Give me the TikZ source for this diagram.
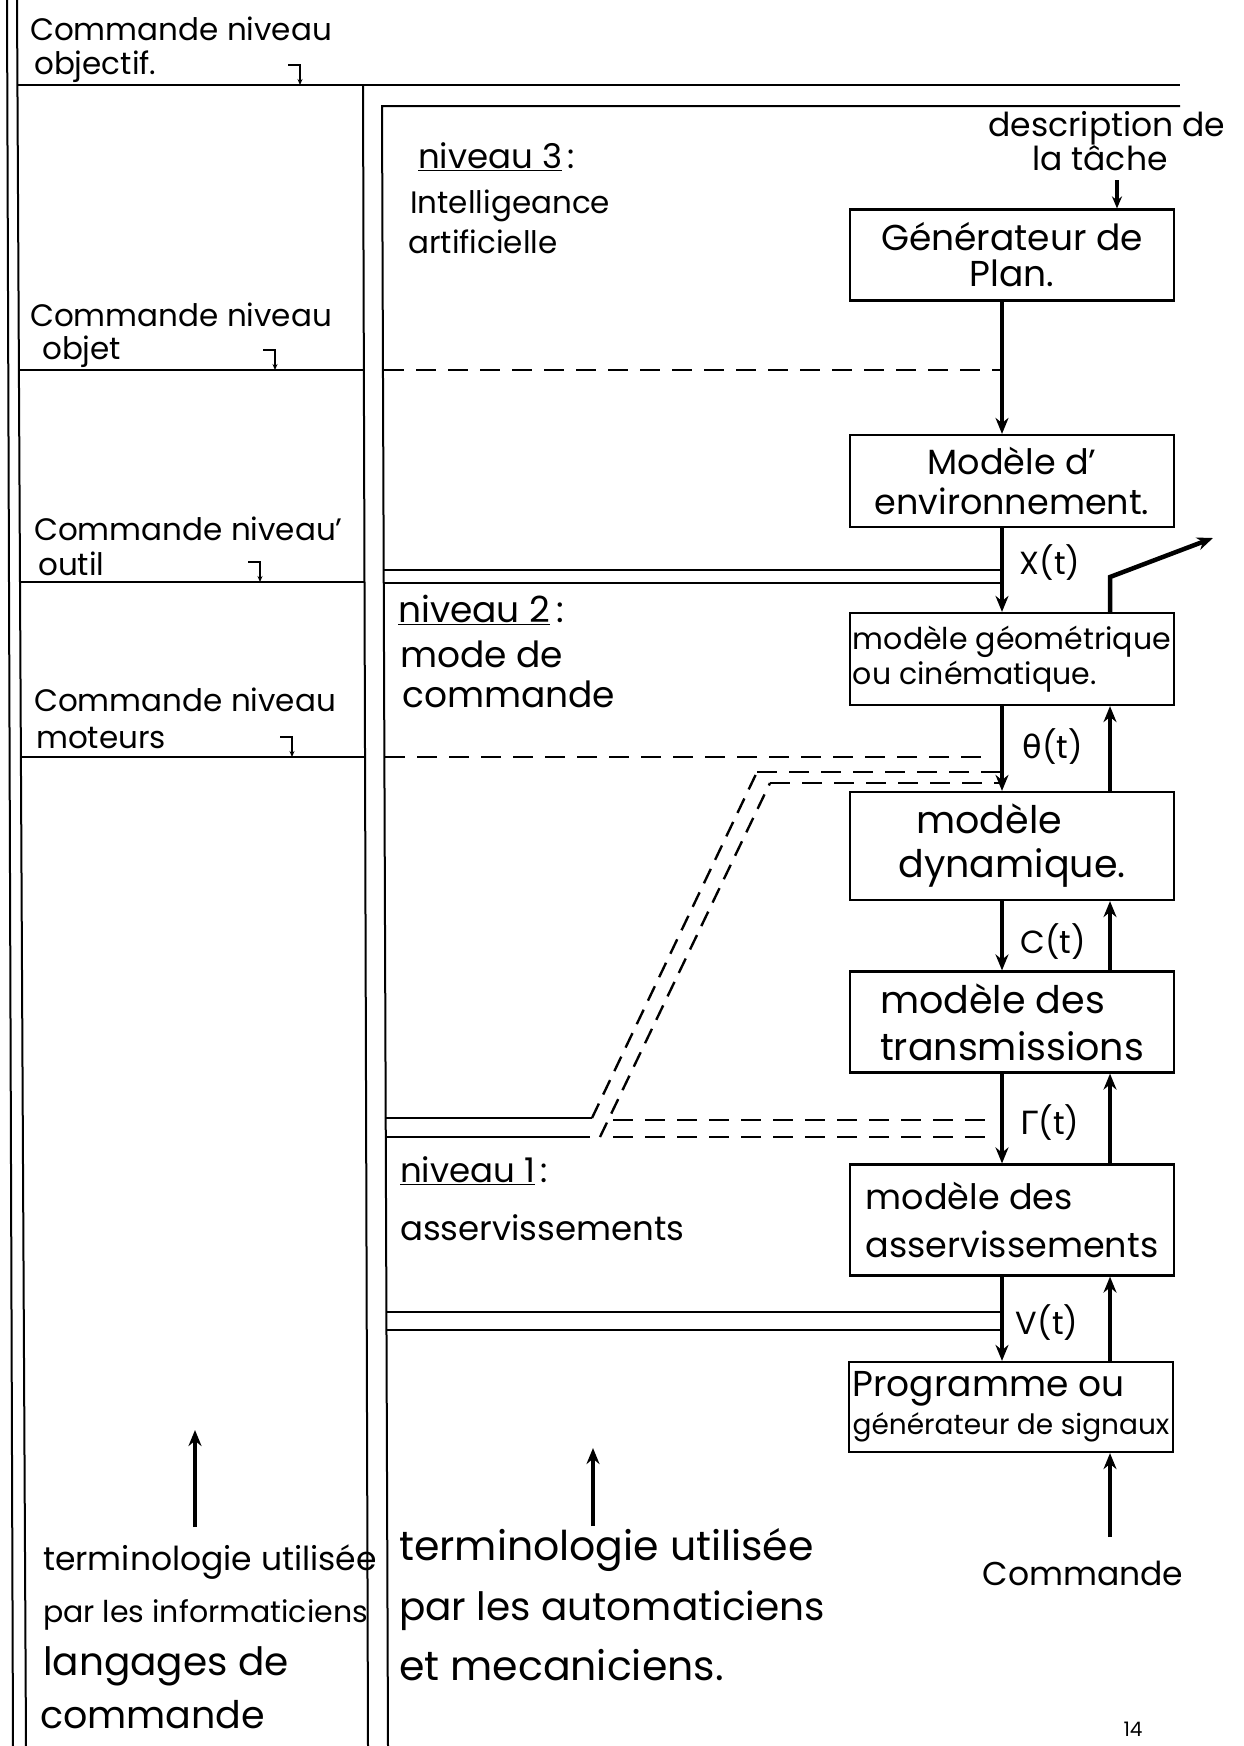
\documentclass[tikz,border=0pt]{standalone}
\usepackage{fontspec}
\setmainfont{Poppins}
\newfontfamily\grk{DejaVu Sans}
\usetikzlibrary{arrows.meta}
\newcommand\myfs[2]{\fontsize{#1}{#2}\selectfont}
\begin{document}
\begin{tikzpicture}[x=1pt,y=-1pt,
  rule/.style={line width=2pt},
  dashrule/.style={line width=2.4pt, dash pattern=on 20pt off 12pt},
  boxnode/.style={draw, line width=2.2pt, minimum width=324pt, inner sep=2pt},
  flow/.style={line width=4.5pt, -{Stealth[length=16pt,width=13pt]}},
  lbl/.style={anchor=base west, inner sep=0pt},
  sig/.style={anchor=center, inner sep=0pt, font=\myfs{32}{32}},
  hook/.style={line width=1.6pt, -{Stealth[length=6pt,width=5pt]}},
]
\useasboundingbox (0,0) rectangle (1243,1746);

% ---- frame ----
\draw[rule] (7,0) -- (13,1746);
\draw[rule] (17,0) -- (26,1746);
\draw[rule] (17,85) -- (1180,85);
\draw[rule] (363,85) -- (368,1746);
\draw[rule] (1180,106) -- (382,106) -- (388,1746);

% ---- left column ----
\node[lbl,font=\myfs{31}{31}] (objA) at (30,40) {Commande niveau};
\node[lbl,font=\myfs{31}{31}] (objB) at (34,74) {objectif.};
\draw[hook] (288,65) -- (300,65) -- (300,85);

\node[lbl,font=\myfs{31}{31}] (obtA) at (30,326) {Commande niveau};
\node[lbl,font=\myfs{31}{31}] (obtB) at (42,359) {objet};
\draw[rule] (18,370) -- (364,370);
\draw[hook] (263,350) -- (275,350) -- (275,370);

\node[lbl,font=\myfs{31}{31}] (outA) at (34,540) {Commande niveau'};
\node[lbl,font=\myfs{31}{31}] (outB) at (38,575) {outil};
\draw[rule] (19,582) -- (365,582);
\draw[hook] (248,562) -- (260,562) -- (260,582);

\node[lbl,font=\myfs{31}{31}] (motA) at (34,711) {Commande niveau};
\node[lbl,font=\myfs{31}{31}] (motB) at (36,748) {moteurs};
\draw[rule] (20,757) -- (365,757);
\draw[hook] (280,737) -- (292,737) -- (292,757);

% ---- middle column ----
\node[lbl,font=\myfs{34}{34}] (n3a) at (418,168) {\underline{niveau 3}\,:};
\node[lbl,font=\myfs{31}{31}] (n3b) at (410,213) {Intelligeance};
\node[lbl,font=\myfs{31}{31}] (n3c) at (408,253) {artificielle};

\node[lbl,font=\myfs{36}{36}] (n2a) at (398,622) {\underline{niveau 2}\,:};
\node[lbl,font=\myfs{36}{36}] (n2b) at (400,667) {mode de};
\node[lbl,font=\myfs{36}{36}] (n2c) at (402,707) {commande};

\node[lbl,font=\myfs{34}{34}] (n1a) at (400,1182) {\underline{niveau 1}\,:};
\node[lbl,font=\myfs{34}{34}] (n1b) at (400,1240) {asservissements};

% ---- right column : boxes ----
\coordinate (L) at (1002,0);
\coordinate (R) at (1110,0);
\coordinate (D) at (1117,180);
\coordinate (kink) at (1110,577);
\coordinate (out) at (1213,538);
\coordinate (cin) at (1110,1537);

\node[lbl,anchor=base,font=\myfs{33}{33}] (descA) at (1107,136) {description de};
\node[lbl,anchor=base,font=\myfs{33}{33}] (descB) at (1100,170) {la tâche};

\node[boxnode,minimum height=91pt,align=center,font=\myfs{36}{36}] (plan) at (1012,255) {Générateur de\\Plan.};
\node[boxnode,minimum height=92pt,align=center,font=\myfs{35}{40}] (env) at (1012,481) {Modèle d'\\environnement.};
\node[boxnode,minimum height=92pt,align=left,font=\myfs{30}{35}] (geom) at (1012,659) {modèle géométrique\\ou cinématique.};
\node[boxnode,minimum height=108pt,align=left,font=\myfs{38}{44}] (dyn) at (1012,846) {\hspace*{18pt}modèle\\dynamique.};
\node[boxnode,minimum height=101pt,align=left,font=\myfs{38}{47}] (trans) at (1012,1022) {modèle des\\transmissions};
\node[boxnode,minimum height=111pt,align=left,font=\myfs{35}{48}] (asserv) at (1012,1220) {modèle des\\asservissements};
\node[boxnode,minimum height=90pt,align=left,font=\myfs{36}{38}] (prog) at (1011,1407) {Programme ou\\{\myfs{28}{38}générateur de signaux}};

% ---- downward chain ----
\draw[line width=4pt,-{Stealth[length=12pt,width=10pt]}] (D) -- (plan.north -| D);
\draw[flow] (plan.south -| L) -- (env.north -| L);
\draw[flow] (env.south -| L) -- (geom.north -| L);
\draw[flow] (geom.south -| L) -- (dyn.north -| L);
\draw[flow] (dyn.south -| L) -- (trans.north -| L);
\draw[flow] (trans.south -| L) -- (asserv.north -| L);
\draw[flow] (asserv.south -| L) -- (prog.north -| L);

% ---- upward chain ----
\draw[flow] (cin) -- (prog.south -| R);
\draw[flow] (prog.north -| R) -- (asserv.south -| R);
\draw[flow] (asserv.north -| R) -- (trans.south -| R);
\draw[flow] (trans.north -| R) -- (dyn.south -| R);
\draw[flow] (dyn.north -| R) -- (geom.south -| R);
\draw[flow] (geom.north -| R) -- (kink) -- (out);

% ---- signal labels ----
\node[sig] (sx) at (1050,563) {X(t)};
\node[sig] (sth) at (1053,747) {{\grk θ}(t)};
\node[sig] (sc) at (1053,942) {C(t)};
\node[sig] (sg) at (1050,1123) {{\grk Γ}(t)};
\node[sig] (sv) at (1047,1323) {V(t)};

% ---- level separators in the middle column ----
\draw[dashrule] (384,370) -- (L |- 0,370);
\draw[rule] (384,570) -- (L |- 0,570);
\draw[rule] (384,583) -- (L |- 0,583);
\draw[dashrule] (385,757) -- (992,757);
\draw[dashrule] (757,772) -- (L |- 0,772);
\draw[dashrule] (770,783) -- (L |- 0,783);
\draw[dashrule, dash pattern=on 16pt off 10pt] (592,1118) -- (757,772);
\draw[dashrule, dash pattern=on 16pt off 10pt] (600,1137) -- (770,783);
\draw[rule] (386,1118) -- (592,1118);
\draw[rule] (386,1137) -- (590,1137);
\draw[dashrule] (613,1120) -- (995,1120);
\draw[dashrule] (613,1137) -- (995,1137);
\draw[rule] (387,1312) -- (L |- 0,1312);
\draw[rule] (387,1330) -- (L |- 0,1330);

% ---- bottom texts ----
\coordinate (la0) at (195,1527);
\coordinate (la1) at (195,1430);
\coordinate (ma0) at (593,1526);
\coordinate (ma1) at (593,1448);
\draw[flow] (la0) -- (la1);
\draw[flow] (ma0) -- (ma1);

\node[lbl,font=\myfs{33}{33}] (ta1) at (43,1570) {terminologie utilisée};
\node[lbl,font=\myfs{30}{30}] (ta2) at (43,1622) {par les informaticiens};
\node[lbl,font=\myfs{39}{39}] (ta3) at (43,1675) {langages de};
\node[lbl,font=\myfs{38}{38}] (ta4) at (40,1728) {commande};

\node[lbl,font=\myfs{41}{41}] (tb1) at (399,1560) {terminologie utilisée};
\node[lbl,font=\myfs{39}{39}] (tb2) at (399,1620) {par les automaticiens};
\node[lbl,font=\myfs{41}{41}] (tb3) at (399,1680) {et mecaniciens.};

\node[lbl,anchor=base,font=\myfs{33}{33}] (cmd) at (1083,1585) {Commande};
\node[lbl,anchor=base,font=\myfs{20}{20}] (pg) at (1133,1736) {14};
\end{tikzpicture}
\end{document}
